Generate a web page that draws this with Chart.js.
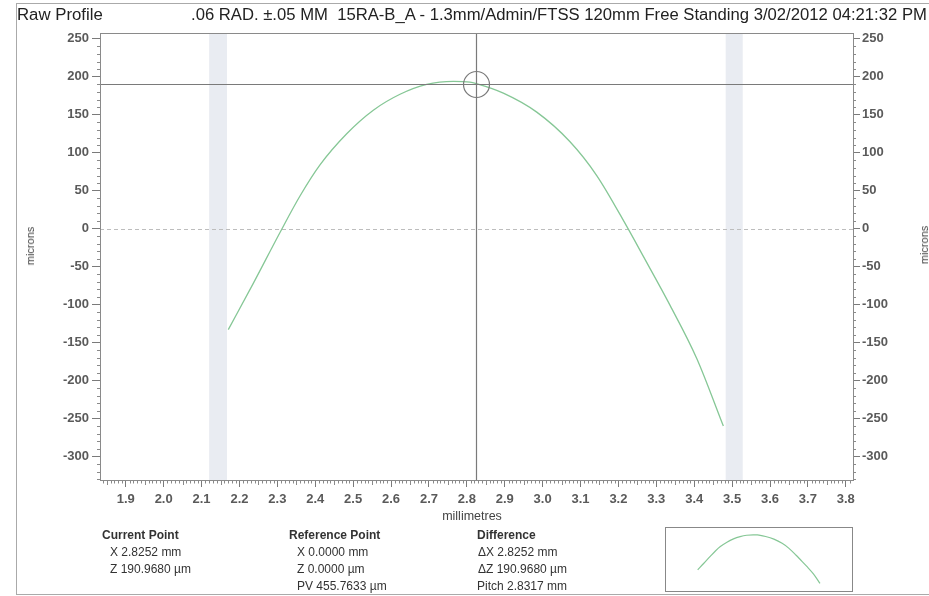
<!DOCTYPE html>
<html><head><meta charset="utf-8">
<script src="https://cdn.jsdelivr.net/npm/chart.js@4.4.1/dist/chart.umd.min.js"></script>
<style>
html,body{margin:0;padding:0;background:#fff;width:929px;height:596px;overflow:hidden;font-family:"Liberation Sans",Arial,sans-serif;}
#wrap{position:relative;width:929px;height:596px;overflow:hidden;}
#main{position:absolute;left:0;top:0;}
.t{position:absolute;white-space:nowrap;color:#333;font-size:12px;line-height:14px;}
.b{font-weight:bold;}
.hd{position:absolute;white-space:nowrap;color:#222;font-size:16px;line-height:18px;transform-origin:0 50%;}
.rot{position:absolute;white-space:nowrap;color:#444;font-size:11px;line-height:12px;transform:translate(-50%,-50%) rotate(-90deg);}
#frame{position:absolute;left:16px;top:3px;width:930px;height:590px;border-left:1px solid #aaa;border-top:1px solid #aaa;border-bottom:1px solid #aaa;}
#miniBox{position:absolute;left:665px;top:527px;width:186px;height:63px;border:1px solid #888;}
#mini{position:absolute;left:0;top:0;}
</style></head>
<body><div id="wrap">
<div id="frame"></div>
<canvas id="main" width="929" height="596"></canvas>
<div class="hd" id="h1" style="left:17px;top:6px;">Raw Profile</div>
<div class="hd" id="h2" style="left:191px;top:6px;">.06 RAD. ±.05 MM&nbsp; 15RA-B_A - 1.3mm/Admin/FTSS 120mm Free Standing 3/02/2012 04:21:32 PM</div>
<div class="rot" style="left:30px;top:246px;">microns</div>
<div class="rot" style="left:924px;top:245px;">microns</div>
<div class="t" style="left:472px;top:509px;font-size:12.5px;color:#444;transform:translateX(-50%);">millimetres</div>

<div class="t b" style="left:102px;top:528px;">Current Point</div>
<div class="t" style="left:110px;top:545px;">X 2.8252 mm</div>
<div class="t" style="left:110px;top:562px;">Z 190.9680 µm</div>

<div class="t b" style="left:289px;top:528px;">Reference Point</div>
<div class="t" style="left:297px;top:545px;">X 0.0000 mm</div>
<div class="t" style="left:297px;top:562px;">Z 0.0000 µm</div>
<div class="t" style="left:297px;top:579px;">PV 455.7633 µm</div>

<div class="t b" style="left:477px;top:528px;">Difference</div>
<div class="t" style="left:478px;top:545px;">ΔX 2.8252 mm</div>
<div class="t" style="left:478px;top:562px;">ΔZ 190.9680 µm</div>
<div class="t" style="left:477px;top:579px;">Pitch 2.8317 mm</div>

<div id="miniBox"><canvas id="mini" width="186" height="63"></canvas></div>
</div>
<script>
// ---- data ----
const xValues = [2.1705, 2.2365, 2.307, 2.3597, 2.4125, 2.483, 2.5532, 2.6237, 2.694, 2.7643, 2.808, 2.8252, 2.8963, 2.9845, 3.0723, 3.1428, 3.222, 3.2658, 3.3363, 3.4067, 3.4769];
const zValues = [-133, -72, -5, 43, 84, 125, 156, 177, 190, 194, 193, 191, 178.5, 153.5, 114.5, 70, 3, -36.5, -101, -171, -260];
const xRange = [1.832, 3.819];
const yRange = [-331, 257.7];
const xTickStep = 0.1;
const yTickStep = 50;
const bandLeft = [2.12, 2.167];
const bandRight = [3.483, 3.528];
const cursorX = 2.8252;
const cursorZ = 190.968;

const points = xValues.map((x, i) => ({x: x, y: zValues[i]}));

// fit header widths
function fitW(id, w){ const el=document.getElementById(id); const cw=el.scrollWidth; el.style.transform='scaleX('+(w/cw)+')'; }
fitW('h1', 86); fitW('h2', 736);

Chart.defaults.font.family = "'Liberation Sans', Arial, sans-serif";
const LINE = '#86c796';

const deco = {
  id: 'deco',
  beforeDatasetsDraw(chart){
    const {ctx, chartArea:a, scales:{x, y}} = chart;
    ctx.save();
    ctx.fillStyle = '#e9ecf2';
    [bandLeft, bandRight].forEach(b => {
      const l = x.getPixelForValue(b[0]), r = x.getPixelForValue(b[1]);
      ctx.fillRect(l, a.top, r - l, a.bottom - a.top);
    });
    const y0 = Math.round(y.getPixelForValue(0)) + 0.5;
    ctx.strokeStyle = '#bdbdbd'; ctx.lineWidth = 1; ctx.setLineDash([4, 3]);
    ctx.beginPath(); ctx.moveTo(a.left, y0); ctx.lineTo(a.right, y0); ctx.stroke();
    ctx.restore();
  },
  afterDatasetsDraw(chart){
    const {ctx, chartArea:a, scales:{x, y}} = chart;
    ctx.save();
    // crosshair
    const cx = Math.round(x.getPixelForValue(cursorX)) + 0.5;
    const cy = Math.round(y.getPixelForValue(cursorZ)) + 0.5;
    ctx.strokeStyle = '#7a7a7a'; ctx.lineWidth = 1.2;
    ctx.beginPath(); ctx.moveTo(cx, a.top); ctx.lineTo(cx, a.bottom);
    ctx.moveTo(a.left, cy); ctx.lineTo(a.right, cy); ctx.stroke();
    ctx.beginPath(); ctx.arc(cx, cy, 13, 0, Math.PI*2); ctx.stroke();
    // frame
    ctx.strokeStyle = '#8a8a8a'; ctx.lineWidth = 1;
    ctx.strokeRect(Math.round(a.left)+0.5, Math.round(a.top)+0.5, Math.round(a.right-a.left), Math.round(a.bottom-a.top));
    // minor ticks
    ctx.strokeStyle = '#8a8a8a';
    ctx.beginPath();
    for (let i = Math.ceil(xRange[0]*100); i <= Math.floor(xRange[1]*100); i++) {
      if (i % 10 === 0) continue;
      const px = Math.round(x.getPixelForValue(i/100)) + 0.5;
      const len = (i % 5 === 0) ? 5 : 3.5;
      ctx.moveTo(px, a.bottom); ctx.lineTo(px, a.bottom + len);
    }
    for (let v = -330; v <= 250; v += 10) {
      if (v % 50 === 0) continue;
      const py = Math.round(y.getPixelForValue(v)) + 0.5;
      ctx.moveTo(a.left - 3, py); ctx.lineTo(a.left, py);
      ctx.moveTo(a.right, py); ctx.lineTo(a.right + 3, py);
    }
    ctx.stroke();
    ctx.restore();
  }
};

const tickFont = {size: 13, weight: 'bold'};
new Chart(document.getElementById('main'), {
  type: 'line',
  data: { datasets: [{ data: points, borderColor: LINE, borderWidth: 1.3, pointRadius: 0, fill: false, cubicInterpolationMode: 'monotone' }] },
  options: {
    responsive: false, animation: false,
    layout: { padding: { top: 33, left: 0, right: 0, bottom: 0 } },
    plugins: { legend: {display: false}, tooltip: {enabled: false}, title: {display: false} },
    scales: {
      x: { type: 'linear', position: 'bottom', min: xRange[0], max: xRange[1],
        afterFit: s => { s.height = 116; },
        border: {display: false},
        grid: { drawOnChartArea: false, drawTicks: true, tickLength: 7, tickColor: '#7a7a7a', color: 'rgba(0,0,0,0)' },
        ticks: { stepSize: xTickStep, includeBounds: false, autoSkip: false, maxRotation: 0, padding: 5, color: '#5a5a5a', font: tickFont, callback: v => Number(v).toFixed(1) } },
      y: { type: 'linear', position: 'left', min: yRange[0], max: yRange[1],
        afterFit: s => { s.width = 100; },
        border: {display: false},
        grid: { drawOnChartArea: false, drawTicks: true, tickLength: 8, tickColor: '#7a7a7a', color: 'rgba(0,0,0,0)' },
        ticks: { stepSize: yTickStep, includeBounds: false, padding: 3, color: '#5a5a5a', font: tickFont } },
      y2: { type: 'linear', position: 'right', min: yRange[0], max: yRange[1],
        afterFit: s => { s.width = 76; },
        border: {display: false},
        grid: { drawOnChartArea: false, drawTicks: true, tickLength: 7, tickColor: '#7a7a7a', color: 'rgba(0,0,0,0)' },
        ticks: { stepSize: yTickStep, includeBounds: false, padding: 2, color: '#5a5a5a', font: tickFont } }
    }
  },
  plugins: [deco]
});

new Chart(document.getElementById('mini'), {
  type: 'line',
  data: { datasets: [{ data: points, borderColor: LINE, borderWidth: 1.2, pointRadius: 0, fill: false, cubicInterpolationMode: 'monotone' }] },
  options: {
    responsive: false, animation: false,
    layout: { padding: 0 },
    plugins: { legend: {display: false}, tooltip: {enabled: false} },
    scales: {
      x: { type: 'linear', display: false, min: xRange[0], max: xRange[1] },
      y: { type: 'linear', display: false, min: yRange[0], max: yRange[1] }
    }
  }
});
</script>
</body></html>
